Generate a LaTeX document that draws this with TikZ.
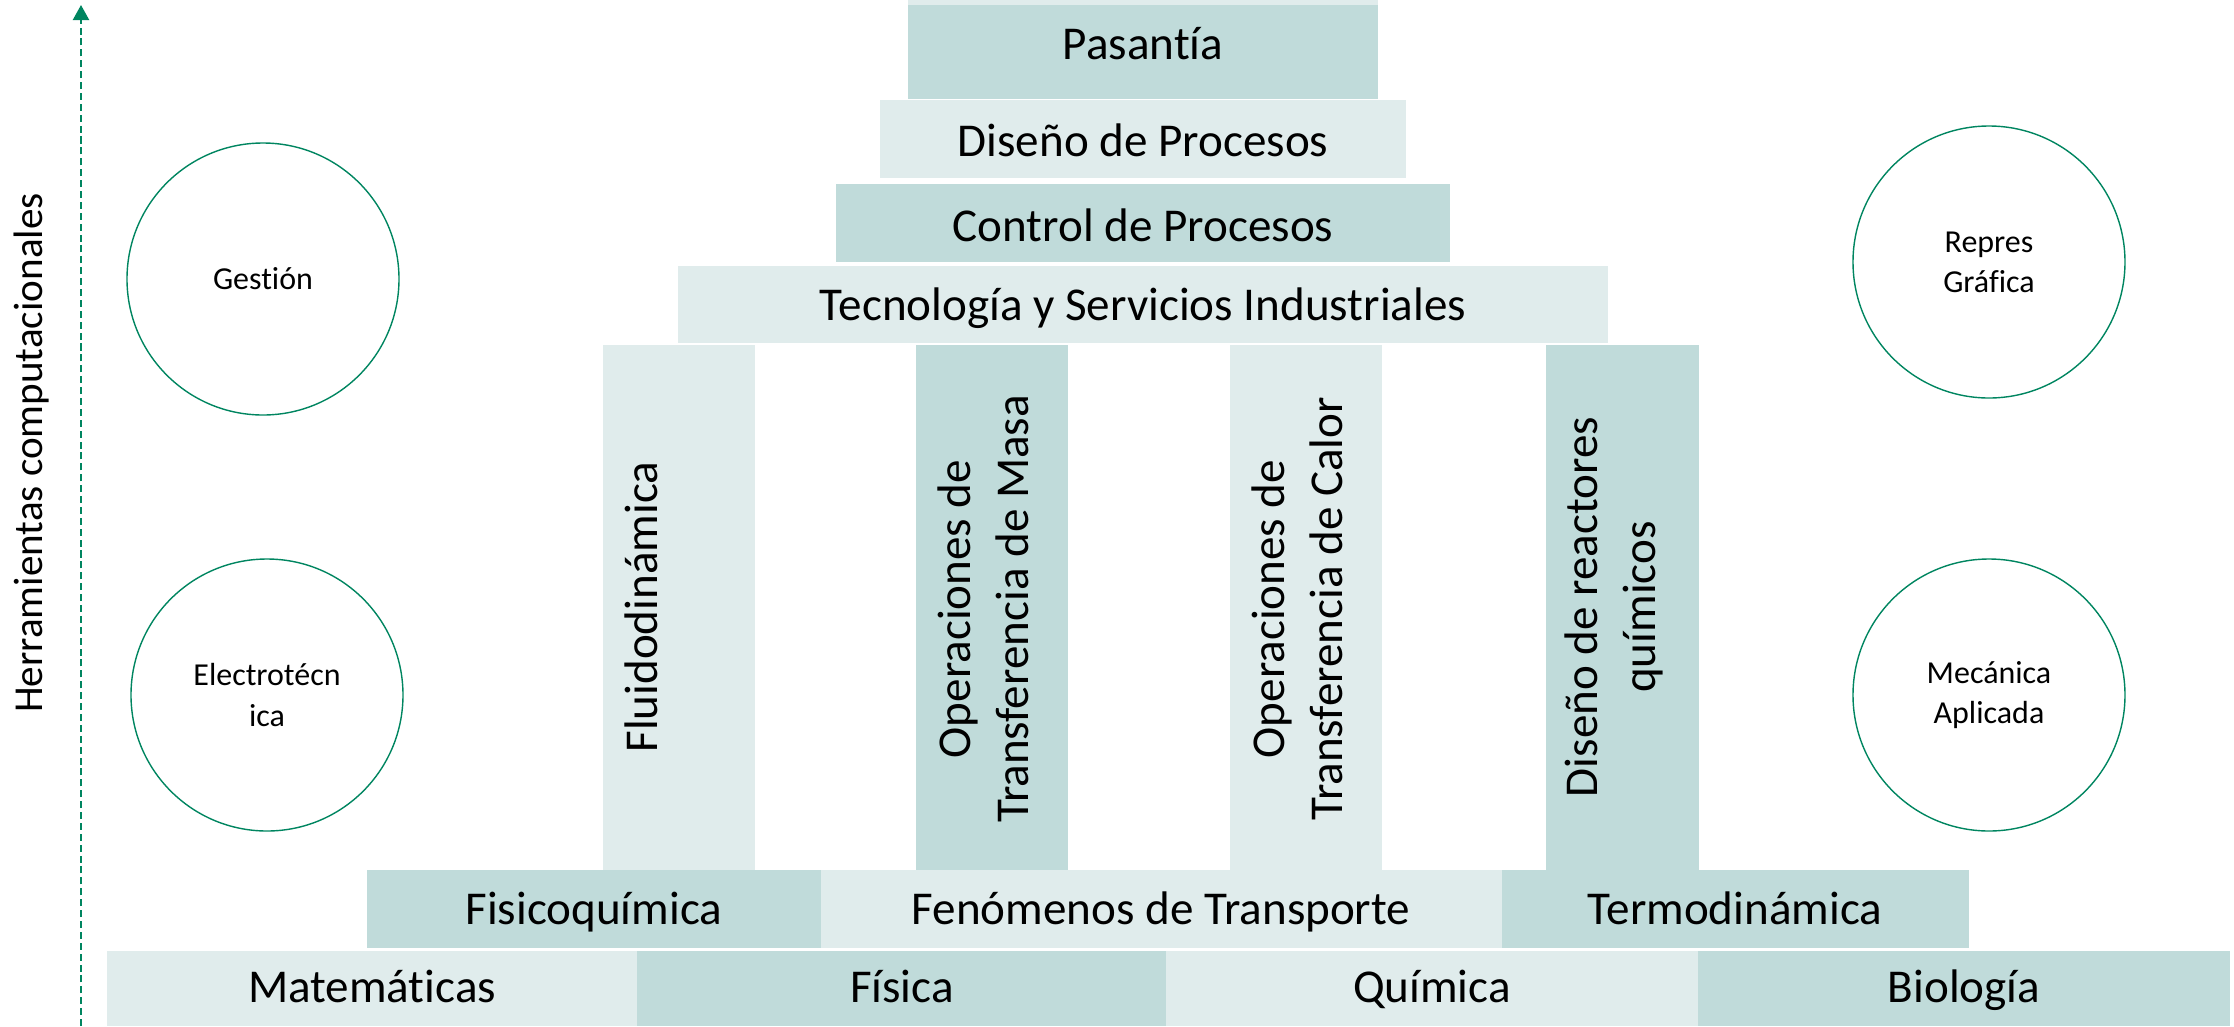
\documentclass[tikz,border=0pt]{standalone}
\usepackage{fontspec}
\setmainfont{Carlito}[Ligatures=NoCommon]
\usetikzlibrary{arrows.meta}

\definecolor{tealosc}{RGB}{192,219,218}
\definecolor{tealclaro}{RGB}{224,236,236}
\definecolor{verdeeje}{RGB}{0,133,96}

\newcommand{\fuentebloque}{\fontsize{13.4}{16.5}\selectfont}
\newcommand{\fuentecirculo}{\fontsize{9.1}{11.4}\selectfont}
\newcommand{\fuenteeje}{\fontsize{11.7}{14}\selectfont}

\tikzset{
	etiqueta/.style={inner sep=0pt, font=\fuentebloque, anchor=base},
	vertical/.style={inner sep=0pt, font=\fuentebloque, rotate=90, anchor=north, align=center},
	area/.style={circle, draw=verdeeje, line width=0.4pt, minimum size=27.2mm, inner sep=0pt, font=\fuentecirculo, align=center},
	eje/.style={verdeeje, line width=0.6pt, dash pattern=on 2pt off 1.1pt, -{Triangle[length=4.3pt,width=4.6pt]}}
}

\begin{document}
\begin{tikzpicture}[x=0.1mm, y=-0.1mm]
	\useasboundingbox (0,0) rectangle (2234,1026);

	%The axis on the left
	\coordinate (ejepie) at (81,1026);
	\coordinate (ejepunta) at (81,5);
	\draw[eje] (ejepie) -- (ejepunta);
	\node[font=\fuenteeje, rotate=90, anchor=base, inner sep=0pt] (herramientas) at (43,453) {Herramientas computacionales};

	%The top of the pyramid
	\fill[tealclaro] (908,0) rectangle (1378,5);
	\fill[tealosc] (908,5) rectangle (1378,99);
	\fill[tealclaro] (880,100) rectangle (1406,178);
	\fill[tealosc] (836,184) rectangle (1450,262);
	\fill[tealclaro] (678,266) rectangle (1608,343);

	\node[etiqueta] (pasantia) at (1143,59) {Pasantía};
	\node[etiqueta] (diseno) at (1143,156) {Diseño de Procesos};
	\node[etiqueta] (control) at (1143,241) {Control de Procesos};
	\node[etiqueta] (tecnologia) at (1143,320) {Tecnología y Servicios Industriales};

	%The columns
	\fill[tealclaro] (603,345) rectangle (755,870);
	\fill[tealosc] (916,345) rectangle (1068,870);
	\fill[tealclaro] (1230,345) rectangle (1382,870);
	\fill[tealosc] (1546,345) rectangle (1699,870);

	\node[vertical] (fluido) at (624,607) {Fluidodinámica};
	\node[vertical] (masa) at (937,609) {Operaciones de\\Transferencia de Masa};
	\node[vertical] (calor) at (1251,609) {Operaciones de\\Transferencia de Calor};
	\node[vertical] (reactores) at (1564,607) {Diseño de reactores\\químicos};

	%The second row
	\fill[tealosc] (367,870) rectangle (821,948);
	\fill[tealclaro] (821,870) rectangle (1502,948);
	\fill[tealosc] (1502,870) rectangle (1969,948);

	\node[etiqueta] (fisicoquimica) at (594,924) {Fisicoquímica};
	\node[etiqueta] (fenomenos) at (1161,924) {Fenómenos de Transporte};
	\node[etiqueta] (termo) at (1735,924) {Termodinámica};

	%The base
	\fill[tealclaro] (107,951) rectangle (637,1026);
	\fill[tealosc] (637,951) rectangle (1166,1026);
	\fill[tealclaro] (1166,951) rectangle (1698,1026);
	\fill[tealosc] (1698,951) rectangle (2230,1026);

	\node[etiqueta] (mate) at (372,1002) {Matemáticas};
	\node[etiqueta] (fisica) at (902,1002) {Física};
	\node[etiqueta] (quimica) at (1432,1002) {Química};
	\node[etiqueta] (biologia) at (1964,1002) {Biología};

	%The circles
	\node[area] (gestion) at (263,279) {Gestión};
	\node[area] (electro) at (267,695) {Electrotécn\\ica};
	\node[area] (repres) at (1989,262) {Repres\\Gráfica};
	\node[area] (mecanica) at (1989,695) {Mecánica\\Aplicada};

\end{tikzpicture}
\end{document}
